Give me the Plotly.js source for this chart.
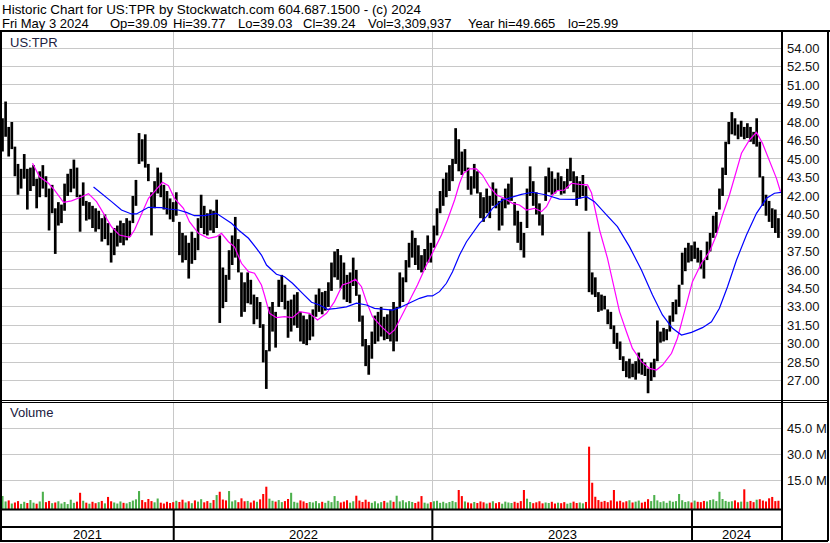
<!DOCTYPE html>
<html><head><meta charset="utf-8">
<script src="https://cdn.plot.ly/plotly-3.0.1.min.js"></script>
<style>html,body{margin:0;padding:0;background:#fff;overflow:hidden}#chart{width:830px;height:543px}</style>
</head><body><div id="chart"></div>
<script>
// ---- data ----
const DAYS_PER_BAR = 3; // each sampled bar covers 3 trading days
const barHigh = [
48.3,49.66,47.6,48.0,46.0, 44.6,44.2,45.4,44.2,44.3, 44.5,43.4,44.0,44.5,43.6, 42.6,42.9,41.0,41.5,41.3,
43.0,43.8,44.2,44.95,44.3, 42.1,43.1,41.6,41.5,41.2, 41.0,40.8,40.2,40.5,39.8, 39.0,39.4,39.6,40.0,39.8,
40.2,40.0,42.0,43.3,47.1, 46.6,47.0,44.6,42.3,43.2, 44.3,43.9,42.9,42.4,41.8, 41.5,42.3,39.9,39.0,38.8,
38.2,39.1,38.6,40.2,42.1, 41.2,40.6,40.9,40.8,41.7, 38.8,36.2,35.6,37.6,38.8, 40.3,38.5,35.8,35.0,35.8,
35.2,34.0,33.8,33.4,31.6, 29.5,33.0,33.4,32.6,35.2, 35.6,34.8,33.5,33.6,34.0, 34.2,32.6,32.3,32.0,32.4,
32.8,34.0,34.5,34.2,34.3, 35.0,36.6,37.5,37.7,37.2, 36.6,35.6,35.8,37.0,36.0, 34.0,32.3,30.4,29.9,31.0,
32.3,32.6,33.0,32.2,32.4, 32.8,33.4,33.0,35.8,35.4, 36.8,38.2,39.2,38.6,38.0, 37.2,37.7,38.8,38.2,39.6,
41.0,42.4,43.4,43.9,44.5, 45.0,47.5,46.6,45.6,45.8, 44.3,43.6,44.6,44.0,42.3, 41.9,42.6,42.0,43.1,42.6,
41.6,41.8,42.6,43.0,43.5, 41.5,40.8,39.9,39.0,42.6, 44.4,43.2,42.3,41.4,40.5, 43.6,44.3,44.0,43.4,43.9,
43.6,43.2,44.2,45.1,44.0, 43.6,43.2,43.7,42.8,39.1, 35.8,35.4,34.2,34.0,33.9, 32.8,32.6,31.5,30.9,30.2,
29.0,28.6,28.8,28.4,28.6, 29.3,28.8,28.5,28.0,28.5, 28.8,31.9,31.0,31.3,31.2, 32.3,33.4,33.6,34.8,37.4,
37.8,38.2,38.0,38.3,37.8, 37.6,36.8,38.3,39.0,40.4, 40.7,42.6,44.3,46.4,48.0, 48.8,48.3,47.8,48.1,47.6,
47.9,47.6,47.2,48.3,46.4, 43.6,42.1,41.6,41.0,40.9, 40.2
];
const barLow = [
45.6,46.8,45.2,45.8,43.6, 42.1,42.6,43.4,40.9,42.4, 42.8,41.0,41.9,42.6,41.9, 39.2,40.6,37.3,39.6,39.8,
40.8,42.0,42.3,42.6,41.9, 39.1,41.2,40.0,40.1,39.4, 39.1,39.3,38.3,38.5,38.0, 36.6,37.2,37.9,38.2,38.0,
38.4,38.7,39.8,41.2,44.6, 44.8,44.3,43.2,38.8,41.0, 42.2,41.9,40.9,40.5,40.1, 39.9,40.4,37.2,36.6,36.8,
35.3,36.5,36.8,37.6,39.4, 38.9,38.8,39.2,39.0,39.4, 31.7,32.9,33.4,35.2,36.4, 37.0,35.8,32.2,32.6,33.3,
33.2,31.6,32.0,31.3,28.5, 26.35,29.4,31.0,29.7,33.0, 33.4,32.8,30.5,31.0,31.5, 31.3,30.2,30.0,29.9,30.3,
30.6,32.2,32.6,32.4,32.7, 33.0,34.3,35.4,35.2,34.5, 33.6,33.4,33.3,34.7,33.9, 31.8,29.8,28.2,27.5,28.8,
30.0,30.2,30.6,30.3,30.4, 30.2,29.4,30.2,32.9,33.4, 35.0,36.2,37.0,36.4,36.0, 35.8,36.0,36.6,36.6,37.8,
38.8,40.6,41.2,41.9,42.4, 43.2,44.6,44.0,43.7,44.0, 42.5,42.1,42.6,42.2,40.2, 39.9,40.6,40.2,41.2,41.0,
39.2,39.6,41.0,41.3,41.6, 39.6,38.2,37.6,37.0,39.4, 42.0,41.2,40.5,39.6,38.8, 41.6,42.3,42.1,42.2,42.4,
42.1,42.2,42.6,43.2,42.3, 41.2,41.8,42.0,40.8,34.2, 34.0,33.8,32.6,32.7,32.8, 31.6,31.2,30.0,29.6,28.7,
27.8,27.3,27.2,27.3,27.1, 27.6,27.5,27.4,26.0,27.0, 27.3,28.6,30.1,30.2,30.3, 31.0,31.8,32.4,33.0,34.8,
35.9,36.6,36.7,36.9,36.6, 36.1,35.3,36.8,37.5,38.6, 39.0,40.9,42.0,43.7,46.2, 47.0,46.9,46.6,46.8,46.6,
46.7,46.4,46.2,46.0,43.5, 41.2,40.4,39.9,39.4,39.0, 38.6
];
// volume, millions of shares
const volumeM = [
5.9,2.8,3.4,1.6,2.2,3.0,1.4,2.6,1.9,3.6,
2.1,1.5,2.8,8.4,2.4,3.1,1.8,2.2,2.9,1.6,
2.5,1.3,3.8,2.0,2.7,7.8,3.2,2.1,1.5,2.6,
1.8,2.4,3.1,1.7,5.4,2.9,2.2,1.6,2.8,2.0,
1.7,2.5,3.3,4.0,8.8,3.6,2.4,4.2,3.0,2.3,
4.5,2.1,1.6,2.6,1.9,2.4,3.2,2.5,3.8,2.2,
2.9,1.8,3.4,2.7,4.1,2.3,3.0,2.0,3.6,6.5,
8.4,3.9,3.4,8.8,2.8,3.5,2.4,4.6,2.9,3.1,
2.2,3.3,2.6,4.0,7.1,11.3,4.4,3.2,2.7,3.6,
2.4,3.0,4.2,7.8,2.6,2.1,3.4,2.8,1.9,2.5,
2.2,3.0,1.8,2.6,2.0,3.2,2.4,5.9,3.1,2.2,
2.7,3.5,2.1,2.9,6.1,3.3,2.5,3.8,2.6,2.0,
2.9,1.7,2.4,3.1,2.2,3.4,2.6,6.1,2.8,3.5,
2.3,3.0,2.5,1.9,2.7,5.9,2.1,1.6,2.4,2.9,
3.2,2.0,2.6,1.8,2.5,3.1,2.4,9.4,5.9,2.8,
2.2,1.7,2.5,1.9,2.8,2.3,1.6,2.1,2.9,1.8,
2.4,1.5,2.7,2.2,1.9,2.6,2.0,3.0,9.4,4.4,
2.5,1.8,2.3,2.9,1.7,2.2,1.9,2.6,1.6,2.1,
1.8,2.4,1.5,2.0,2.7,1.9,2.2,1.7,2.5,34.4,
13.6,5.5,3.6,2.6,3.1,2.4,3.4,9.4,2.8,3.2,
2.3,2.9,3.5,2.2,2.7,3.3,2.1,2.6,4.1,3.0,
6.5,3.4,2.4,2.9,2.0,3.2,2.6,3.0,7.1,3.5,
2.5,2.9,2.2,3.3,2.6,2.4,3.1,2.8,3.6,4.0,
3.0,8.4,4.2,3.1,2.6,2.9,3.4,2.3,2.7,9.8,
2.6,3.1,2.4,3.8,4.1,3.3,2.8,4.6,5.4,3.0,
3.2
];
// moving averages (trading-day index, price)
const magentaDay = [29,35.8,44.5,50.3,59,66.7,74.4,83.1,90.9,97.6,105.4,113.1,122.8,127.6,134.4,141.1,146.9,154.6,160.4,166.2,174.9,180.7,189.4,199.1,206.8,211.7,218.4,224.2,231,237.8,243.6,250.3,253.2,258.1,264.8,272.6,280.3,287.1,296.7,304.5,313.2,320.9,328.6,335.4,341.2,347,351.8,357.6,366.3,374.1,378.9,385.7,393.4,401.1,409.8,417.6,424.3,430.1,437,441.8,445.6,451.4,458.1,463.9,470.7,477.5,485.2,492.9,499.7,506.5,514.2,521,525.8,531.6,536.4,543.2,550,557.8,565.5,569.4,574.2,577.1,584.8,591.5,596.4,603.1,608.9,617.6,625.4,632.1,638,646.7,652.4,659.2,666.9,675.6,683.4,690.1,696,702.7,709.5,714.3,722,728.8,734.6,741.3,748.1,752];
const magentaVal = [44.65,43.56,43.03,42.48,41.49,41.6,41.86,42.19,41.54,40.59,39.5,38.83,38.65,39.24,40.59,41.81,42.35,43.11,42.83,41.81,41.0,39.91,38.97,38.57,38.7,38.97,38.29,37.88,36.54,35.86,35.73,34.78,33.97,32.48,32.13,32.21,32.13,32.62,32.48,31.94,32.48,33.43,34.78,34.97,35.24,34.64,33.43,32.21,31.4,30.78,31.13,32.21,33.43,34.78,36.4,37.75,38.83,40.05,41.67,43.03,43.84,44.19,44.19,43.7,42.75,42.08,41.81,41.4,41.27,40.86,41.0,40.73,41.13,42.08,42.43,42.48,43.03,42.94,42.9,42.24,40.32,39.24,36.94,34.51,32.62,30.99,29.64,28.56,28.02,27.88,28.29,29.24,30.46,32.62,35.05,36.54,37.48,38.83,40.46,42.08,43.97,45.46,46.54,47.16,46.27,44.78,43.43,42.35];
const blueDay = [88,95.7,105.4,115,124.7,129.5,136.3,141.1,153.7,160.4,170.1,177.8,185.6,195.2,206.8,213.6,221.3,228.1,237.8,245.5,250.3,255.2,264.8,272.6,280.3,290,298.7,306.4,314.1,322.8,332.5,342.2,351.8,359.6,369.2,377,383.7,393.4,403.1,410.8,415.6,422.4,429.1,435,441.8,448.5,454.3,461.1,467.8,473.6,483.3,492.9,501.6,512.3,525.8,538.4,552.9,564.5,572.2,583.8,594.4,606,617.6,628.3,637.9,647.6,656.3,666,676.6,685.3,693,700.8,709.5,719.1,728.8,738.5,746.2,752.9];
const blueVal = [42.73,42.22,41.54,40.86,40.54,40.54,40.86,41.08,41.05,40.94,40.86,40.67,40.4,40.4,40.59,40.24,39.78,39.24,38.57,37.75,37.21,36.4,35.65,35.45,34.92,34.1,33.38,33.16,32.81,32.89,33.0,33.3,33.16,32.89,32.81,32.75,32.94,33.3,33.7,33.89,33.89,34.24,34.92,35.86,37.21,38.29,38.97,39.78,40.32,41.0,41.67,41.94,42.13,42.3,42.08,41.75,41.73,41.94,41.54,40.46,39.51,37.89,36.0,33.97,32.35,31.27,30.72,30.94,31.32,31.8,32.89,34.64,36.81,38.83,40.59,41.81,42.22,42.3];
const yearLabels = ['2021','2022','2023','2024'];
const yearBoundDay = [165.5, 415.5, 666.5];
const priceTicks = [27,28.5,30,31.5,33,34.5,36,37.5,39,40.5,42,43.5,45,46.5,48,49.5,51,52.5,54];
const volumeTicks = [15,30,45];
const volumeTickText = ['15.0 M','30.0 M','45.0 M'];
const headerLine1 = 'Historic Chart for US:TPR by Stockwatch.com 604.687.1500 - (c) 2024';
const headerFields = ['Fri May', '3 2024', 'Op=39.09', 'Hi=39.77', 'Lo=39.03', 'Cl=39.24', 'Vol=3,309,937', 'Year hi=49.665', 'lo=25.99'];
const symbolLabel = 'US:TPR';
const volumeLabel = 'Volume';

// ---- layout constants (pixels) ----
const W = 830, H = 543;
const PX = p => p / W;
const PY = p => 1 - p / H;
const FONT = 'Liberation Sans, Arial, sans-serif';
const XR = [-0.48, 752.5];
const VOL_FLOOR = -1.56;
const GRID = '#c8c8c8';
const headerFieldX = [0, 47, 108, 171, 236, 301, 366, 466, 566];

const days = barHigh.map((_, i) => i * DAYS_PER_BAR);
const mids = barHigh.map((h, i) => (h + barLow[i]) / 2);
const volColors = mids.map((m, i) => (i === 0 || m >= mids[i - 1]) ? '#4cb04c' : '#ff0000');

const traces = [
  {type:'bar', x: days, base: barLow, y: barHigh.map((h, i) => h - barLow[i]), width: 2.6,
   marker:{color:'#000', line:{width:0}}, xaxis:'x', yaxis:'y', hoverinfo:'skip'},
  {type:'scatter', mode:'lines', x: magentaDay, y: magentaVal, line:{color:'#ff00ff', width:1.2}, xaxis:'x', yaxis:'y', hoverinfo:'skip'},
  {type:'scatter', mode:'lines', x: blueDay, y: blueVal, line:{color:'#0000ff', width:1.2}, xaxis:'x', yaxis:'y', hoverinfo:'skip'},
  {type:'bar', x: days, base: VOL_FLOOR, y: volumeM.map(v => v - VOL_FLOOR), width: 2.0,
   marker:{color: volColors, line:{width:0}}, xaxis:'x2', yaxis:'y2', hoverinfo:'skip'}
];

const xCommon = {range: XR, tickvals: yearBoundDay, showticklabels:false, ticks:'', showgrid:true,
  gridcolor: GRID, gridwidth:1, zeroline:false, showline:false, fixedrange:true};
const tickFont = {family: FONT, size: 13, color: '#111'};

const shapes = [];
const L = (x0, y0, x1, y1, w) => shapes.push({type:'line', xref:'paper', yref:'paper',
  x0: PX(x0), y0: PY(y0), x1: PX(x1), y1: PY(y1), line:{color:'#000', width:w}, layer:'above'});
L(0, 31, 830, 31, 2);
L(1, 31, 1, 541, 2);
L(782, 31, 782, 541, 2);
L(828, 31, 828, 541, 2);
L(0, 400.5, 828, 400.5, 1);
L(0, 402.5, 828, 402.5, 1);
L(0, 509.5, 782, 509.5, 2);
L(0, 527, 782, 527, 2);
L(0, 541, 828, 541, 2);
yearBoundDay.forEach(d => shapes.push({type:'line', xref:'x', yref:'paper', x0:d, x1:d,
  y0: PY(509.5), y1: PY(541), line:{color:'#000', width:2}, layer:'above'}));

const hdr = (text, x, y, size, color) => ({text, x: PX(x), y: PY(y), xref:'paper', yref:'paper',
  xanchor:'left', yanchor:'middle', showarrow:false, font:{family: FONT, size, color}});
const annotations = [
  hdr(headerLine1, 0, 10, 13.4, '#000'),
  hdr(symbolLabel, 8, 42, 13, '#202040'),
  hdr(volumeLabel, 8, 413, 13, '#202040')
];
headerFields.forEach((t, i) => annotations.push(hdr(t, headerFieldX[i], 23, 13, '#000')));
const bounds = [XR[0]].concat(yearBoundDay, [XR[1]]);
yearLabels.forEach((t, i) => annotations.push({text:t, x:(bounds[i] + bounds[i + 1]) / 2, y: PY(534),
  xref:'x', yref:'paper', xanchor:'center', yanchor:'middle', showarrow:false,
  font:{family: FONT, size:13, color:'#000'}}));

const layout = {
  width: W, height: H, margin:{l:0, r:0, t:0, b:0, pad:0},
  paper_bgcolor:'#fff', plot_bgcolor:'#fff', showlegend:false, barmode:'overlay',
  xaxis: Object.assign({}, xCommon, {domain:[PX(2), PX(781)], anchor:'y'}),
  xaxis2: Object.assign({}, xCommon, {domain:[PX(2), PX(781)], anchor:'y2', matches:'x'}),
  yaxis: {domain:[PY(400), PY(31)], range:[25.452, 55.379], side:'right', anchor:'x',
    tickvals: priceTicks, ticktext: priceTicks.map(v => v.toFixed(2)), ticks:'', ticklabelstandoff:5,
    showgrid:true, gridcolor: GRID, gridwidth:1, zeroline:false, showline:false, tickfont: tickFont, fixedrange:true},
  yaxis2: {domain:[PY(509), PY(403)], range:[VOL_FLOOR, 59.6], side:'right', anchor:'x2',
    tickvals: volumeTicks, ticktext: volumeTickText, ticks:'', ticklabelstandoff:5,
    showgrid:true, gridcolor: GRID, gridwidth:1, zeroline:false, showline:false, tickfont: tickFont, fixedrange:true},
  shapes: shapes, annotations: annotations
};
Plotly.newPlot('chart', traces, layout, {staticPlot:true, displayModeBar:false});
</script></body></html>
